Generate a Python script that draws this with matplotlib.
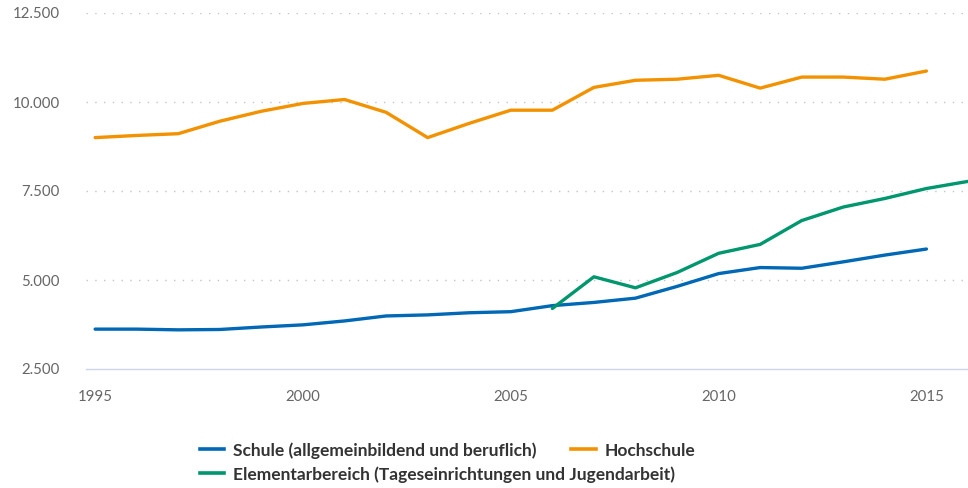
import matplotlib.pyplot as plt
from matplotlib.ticker import FuncFormatter
from matplotlib.lines import Line2D

plt.rcParams['font.family'] = ['Lato', 'DejaVu Sans']

years = list(range(1995, 2016))
schule = [3620, 3620, 3600, 3610, 3680, 3740, 3850, 3990, 4020, 4080, 4110,
          4280, 4370, 4490, 4820, 5180, 5350, 5330, 5510, 5700, 5870]
hochschule = [9000, 9060, 9110, 9460, 9740, 9960, 10070, 9710, 9000, 9400, 9770,
              9770, 10410, 10610, 10640, 10750, 10390, 10700, 10700, 10640, 10870]
elem_years = list(range(2006, 2017))
elementar = [4200, 5090, 4780, 5210, 5750, 6000, 6670, 7050, 7290, 7570, 7770]

labels = ["Schule (allgemeinbildend und beruflich)", "Hochschule",
          "Elementarbereich (Tageseinrichtungen und Jugendarbeit)"]
colors = ["#0068b5", "#f39200", "#00966e"]

fig = plt.figure(figsize=(9.68, 4.88), dpi=100)
ax = fig.add_axes([86 / 968, 1 - 369 / 488, 1 - 86 / 968, (369 - 13) / 488])

ax.plot(years, schule, color=colors[0], lw=2.4, solid_capstyle='round')
ax.plot(years, hochschule, color=colors[1], lw=2.4, solid_capstyle='round')
ax.plot(elem_years, elementar, color=colors[2], lw=2.4, solid_capstyle='round')

ax.set_xlim(1994.78, 2016)
ax.set_ylim(2500, 12500)
ax.set_xticks([1995, 2000, 2005, 2010, 2015])
ax.set_yticks([2500, 5000, 7500, 10000, 12500])
ax.yaxis.set_major_formatter(FuncFormatter(lambda v, p: f"{int(v):,}".replace(",", ".")))
for v in [5000, 7500, 10000, 12500]:
    ax.axhline(v, color="#c4c4c4", lw=1, ls=(0, (1, 5.3)), zorder=0)
for s in ["top", "right", "left"]:
    ax.spines[s].set_visible(False)
ax.spines["bottom"].set_color("#ccd6eb")
ax.spines["bottom"].set_linewidth(1)
ax.tick_params(axis="both", length=0, colors="#666666", labelsize=10.8)
ax.tick_params(axis="y", pad=19)
ax.tick_params(axis="x", pad=15)

handles = [Line2D([], [], color=c, lw=2.6) for c in colors]
legprops = {"weight": "bold", "size": 12.5}
fig.legend(handles[:2], labels[:2], ncol=2, loc="upper left",
           bbox_to_anchor=(200 / 968, 1 - 442 / 488), frameon=False,
           handlelength=1.4, handletextpad=0.5, columnspacing=2.0,
           borderaxespad=0, borderpad=0, prop=legprops)
fig.legend(handles[2:], labels[2:], loc="upper left",
           bbox_to_anchor=(200 / 968, 1 - 466 / 488), frameon=False,
           handlelength=1.4, handletextpad=0.5, borderaxespad=0, borderpad=0,
           prop=legprops)
for leg in fig.legends:
    for t in leg.get_texts():
        t.set_color("#333333")

fig.savefig("out.png", dpi=100)
